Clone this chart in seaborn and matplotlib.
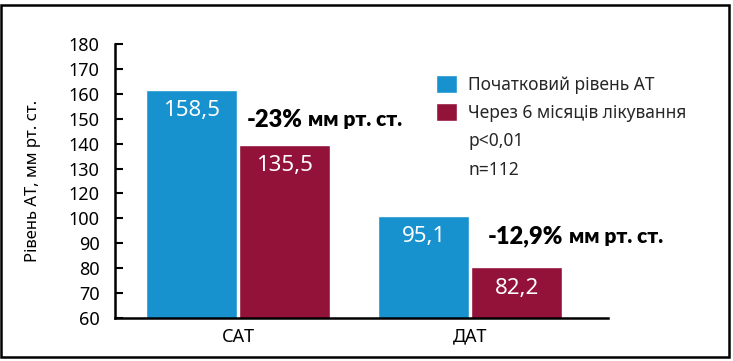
import numpy as np
import pandas as pd
import matplotlib
matplotlib.use("Agg")
import matplotlib.pyplot as plt
from matplotlib.patches import Rectangle
import seaborn as sns

# ---- data ----
groups = ["САТ", "ДАТ"]
series = ["Початковий рівень АТ", "Через 6 місяців лікування"]
# bar heights as read from the (broken) axis
baseline_heights = [161.7, 101.8]
after_heights = [139.6, 80.4]
baseline_labels = ["158,5", "95,1"]
after_labels = ["135,5", "82,2"]
change_labels = ["-23%", "-12,9%"]
unit_label = "мм рт. ст."
extra_legend = ["p<0,01", "n=112"]
ytick_values = [60, 70, 80, 90, 100, 120, 130, 140, 150, 160, 170, 180]

BLUE = "#1891CF"
RED = "#92123A"

df = pd.DataFrame({
    "group": groups * 2,
    "series": [series[0]] * 2 + [series[1]] * 2,
    "value": baseline_heights + after_heights,
})

sns.set_theme(style="white")
plt.rcParams["font.family"] = ["Noto Sans", "DejaVu Sans"]
BOLD_FAMILY = ["Lato", "DejaVu Sans"]

fig = plt.figure(figsize=(7.33, 3.61), dpi=100)
ax = fig.add_axes([115 / 733, (361 - 318) / 361, 493 / 733, 274 / 361])

sns.barplot(data=df, x="group", y="value", hue="series", palette=[BLUE, RED],
            width=0.8, gap=0.02, ax=ax, saturation=1, errorbar=None)


# broken axis: 110 is skipped (100 -> 120 compressed into one step)
def fwd(v):
    v = np.asarray(v, dtype=float)
    return np.where(v <= 100, v, np.where(v <= 120, 100 + (v - 100) / 2, v - 10))


def inv(p):
    p = np.asarray(p, dtype=float)
    return np.where(p <= 100, p, np.where(p <= 110, 100 + (p - 100) * 2, p + 10))


ax.set_yscale("function", functions=(fwd, inv))
ax.set_ylim(60, 180)
ax.set_yticks(ytick_values)
ax.set_yticklabels([str(v) for v in ytick_values])
ax.yaxis.set_minor_locator(matplotlib.ticker.NullLocator())
ax.set_xlim(-0.531, 1.594)

for side in ["top", "right"]:
    ax.spines[side].set_visible(False)
for side in ["left", "bottom"]:
    ax.spines[side].set_linewidth(1.8)
    ax.spines[side].set_color("black")

ax.tick_params(axis="y", direction="in", length=6, width=1.5, pad=11,
               labelsize=13, colors="black", left=True)
ax.tick_params(axis="x", length=0, pad=7, labelsize=13, colors="black")
ax.set_xlabel("")
ax.set_ylabel("Рівень АТ, мм рт. ст.", fontsize=12, color="black")
ax.yaxis.set_label_coords(-0.15, 0.5)

# value labels inside bars
for cont, labels in zip(ax.containers, [baseline_labels, after_labels]):
    for bar, lab in zip(cont, labels):
        ax.annotate(lab, (bar.get_x() + bar.get_width() / 2, bar.get_y() + bar.get_height()),
                    xytext=(0, -15), textcoords="offset points", ha="center", va="center",
                    color="white", fontsize=16)

# change annotations
renderer = fig.canvas.get_renderer()
for (xf, yf), lab in zip([(0.267, 0.723), (0.757, 0.297)], change_labels):
    t = ax.text(xf, yf, lab, transform=ax.transAxes, fontsize=17, family=BOLD_FAMILY,
                fontweight="heavy", va="center", ha="left", color="black")
    bb = t.get_window_extent(renderer=renderer)
    xfig = (bb.x1 + 5) / fig.bbox.width
    fig.text(xfig, ax.transAxes.transform((0, yf))[1] / fig.bbox.height, unit_label,
             fontsize=15, family=BOLD_FAMILY, fontweight="heavy",
             va="center", ha="left", color="black")

# legend
handles, labels = ax.get_legend_handles_labels()
blank = [Rectangle((0, 0), 1, 1, visible=False) for _ in extra_legend]
ax.legend(handles + blank, labels + extra_legend, loc="upper left",
          bbox_to_anchor=(436 / 733, 1 - 75 / 361), bbox_transform=fig.transFigure,
          frameon=False, fontsize=12.5, handlelength=1.2, handleheight=1.2,
          handletextpad=0.65, labelspacing=0.55, borderpad=0, borderaxespad=0)

# figure border
fig.patches.append(Rectangle((1 / 733, 4 / 361), 728 / 733, 352 / 361,
                             transform=fig.transFigure, fill=False,
                             edgecolor="black", linewidth=1.8, zorder=10))

fig.savefig("out.png", dpi=100)
